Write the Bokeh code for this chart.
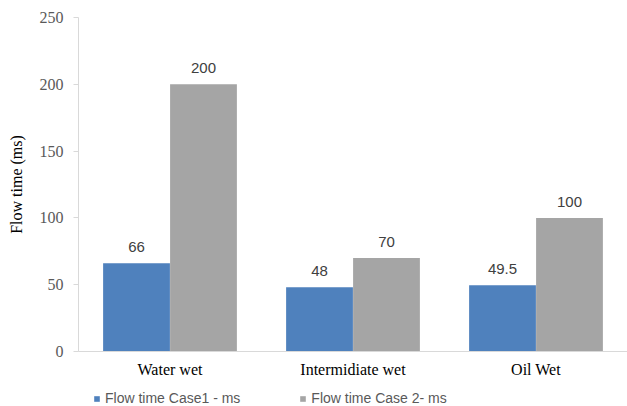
from bokeh.plotting import figure
from bokeh.layouts import column
from bokeh.models import ColumnDataSource, FactorRange, Legend, LegendItem, LabelSet
from bokeh.core.properties import value
from bokeh.transform import dodge
from bokeh.embed import file_html
from bokeh.resources import INLINE

categories = ["Water wet", "Intermidiate wet", "Oil Wet"]
case1 = [66, 48, 49.5]
case2 = [200, 70, 100]
case1_labels = ["66", "48", "49.5"]
case2_labels = ["200", "70", "100"]
series_names = ["Flow time Case1 - ms", "Flow time Case 2- ms"]
y_ticks = [0, 50, 100, 150, 200, 250]

blue = "#4F81BD"
gray = "#A5A5A5"

src = ColumnDataSource(dict(cat=categories, c1=case1, c2=case2,
                            l1=case1_labels, l2=case2_labels))

p = figure(x_range=FactorRange(*categories, range_padding=0), y_range=(0, 250),
           width=627, height=382, output_backend="svg", toolbar_location=None,
           min_border_left=78, min_border_right=0, min_border_top=17, min_border_bottom=31)
p.outline_line_color = None
p.xgrid.grid_line_color = None
p.ygrid.grid_line_color = None

off = 0.183
w = 0.365

p.vbar(x=dodge("cat", -off, range=p.x_range), top="c1", width=w, source=src,
       fill_color=blue, line_color=None)
p.vbar(x=dodge("cat", off, range=p.x_range), top="c2", width=w, source=src,
       fill_color=gray, line_color=None)

# value labels above each bar
for col, lab, d in (("c1", "l1", -off), ("c2", "l2", off)):
    p.add_layout(LabelSet(x=dodge("cat", d, range=p.x_range), y=col, text=lab, source=src,
                          text_align="center", text_baseline="bottom", y_offset=11,
                          text_font=value("Liberation Sans"), text_font_size="15px",
                          text_color="#404040"))

# y axis
p.yaxis.ticker = y_ticks
p.yaxis.axis_line_color = "#D9D9D9"
p.yaxis.major_tick_line_color = "#D9D9D9"
p.yaxis.major_tick_out = 5
p.yaxis.major_tick_in = 0
p.yaxis.minor_tick_line_color = None
p.yaxis.major_label_text_font = "Liberation Serif"
p.yaxis.major_label_text_font_size = "16px"
p.yaxis.major_label_text_color = "#595959"
p.yaxis.major_label_standoff = 10
p.yaxis.axis_label = "Flow time (ms)"
p.yaxis.axis_label_text_font = "Liberation Serif"
p.yaxis.axis_label_text_font_size = "16px"
p.yaxis.axis_label_text_font_style = "normal"
p.yaxis.axis_label_text_color = "black"
p.yaxis.axis_label_standoff = 12

# x axis
p.xaxis.axis_line_color = "#D9D9D9"
p.xaxis.major_tick_line_color = None
p.xaxis.major_tick_out = 0
p.xaxis.major_tick_in = 0
p.xaxis.minor_tick_line_color = None
p.xaxis.major_label_text_font = "Liberation Serif"
p.xaxis.major_label_text_font_size = "16px"
p.xaxis.major_label_text_color = "black"
p.xaxis.major_label_standoff = 9

# legend strip underneath the chart; the key renderers are flat, zero-height bars
lg = figure(width=627, height=24, output_backend="svg", toolbar_location=None,
            x_range=(0, 1), y_range=(0, 1), min_border=0)
lg.axis.visible = False
lg.grid.visible = False
lg.outline_line_color = None
key_src = ColumnDataSource(dict(x=[0.5], top=[0]))
k1 = lg.vbar(x="x", top="top", width=0, source=key_src, fill_color=blue, line_color=None)
k2 = lg.vbar(x="x", top="top", width=0, source=key_src, fill_color=gray, line_color=None)
legend = Legend(items=[LegendItem(label=series_names[0], renderers=[k1]),
                       LegendItem(label=series_names[1], renderers=[k2])],
                orientation="horizontal", location=(15, 0),
                label_text_font="Liberation Sans", label_text_font_size="14px",
                label_text_color="#595959", glyph_width=7, glyph_height=7,
                spacing=59, label_standoff=5, padding=0, margin=0,
                label_height=14,
                border_line_color=None, background_fill_alpha=0)
lg.add_layout(legend, "center")

open("out.html", "w").write(file_html(column(p, lg, spacing=0), INLINE))
